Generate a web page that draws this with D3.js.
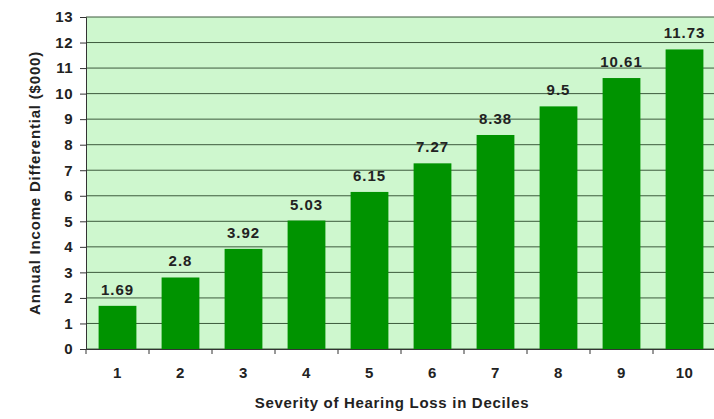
<!DOCTYPE html>
<html>
<head>
<meta charset="utf-8">
<script src="https://cdn.jsdelivr.net/npm/d3@7"></script>
<style>
  body { margin: 0; background: #fff; }
  svg text { font-family: "Liberation Sans", Arial, sans-serif; font-weight: bold; fill: #222; }
</style>
</head>
<body>
<div id="chart"></div>
<script>
// deciles of hearing loss and the income differential ($000)
var deciles = ['1', '2', '3', '4', '5', '6', '7', '8', '9', '10'];
var incomeDiff = [1.69, 2.8, 3.92, 5.03, 6.15, 7.27, 8.38, 9.5, 10.61, 11.73];
var yTicks = [0, 1, 2, 3, 4, 5, 6, 7, 8, 9, 10, 11, 12, 13];

var margin = { top: 17, right: -2, bottom: 70, left: 86 },
    W = 714, H = 419,
    width = W - margin.left - margin.right,
    height = H - margin.top - margin.bottom;

var svg = d3.select('#chart').append('svg')
    .attr('width', W)
    .attr('height', H);

var g = svg.append('g')
    .attr('transform', 'translate(' + margin.left + ',' + margin.top + ')');

var x = d3.scaleBand().domain(deciles).range([0, width]).paddingInner(0.4).paddingOuter(0.2);
var y = d3.scaleLinear().domain([0, 13]).range([height, 0]);

// plot background
g.append('rect')
    .attr('width', width)
    .attr('height', height)
    .attr('fill', '#cef7ce');

// grid lines
g.append('g')
    .selectAll('line')
    .data(yTicks)
    .join('line')
    .attr('x1', 0)
    .attr('x2', width)
    .attr('y1', function(d) { return y(d); })
    .attr('y2', function(d) { return y(d); })
    .attr('stroke', '#3d5a3d')
    .attr('stroke-width', 1);

// bars
g.selectAll('.bar')
    .data(incomeDiff)
    .join('rect')
    .attr('class', 'bar')
    .attr('x', function(d, i) { return x(deciles[i]); })
    .attr('y', function(d) { return y(d); })
    .attr('width', x.bandwidth())
    .attr('height', function(d) { return height - y(d); })
    .attr('fill', '#009300');

// value labels
g.selectAll('.val')
    .data(incomeDiff)
    .join('text')
    .attr('class', 'val')
    .attr('x', function(d, i) { return x(deciles[i]) + x.bandwidth() / 2; })
    .attr('y', function(d) { return y(d) - 11; })
    .attr('text-anchor', 'middle')
    .style('font-size', '15px')
    .style('letter-spacing', '1px')
    .text(function(d) { return d; });

// y axis
var yAxis = g.append('g')
    .call(d3.axisLeft(y).tickValues(yTicks).tickSize(6).tickPadding(7));
yAxis.select('.domain').attr('stroke', '#333');
yAxis.selectAll('.tick line').attr('stroke', '#333');
yAxis.selectAll('text').style('font-size', '15px').style('letter-spacing', '0.5px').attr('fill', '#222');

// x axis (ticks between categories)
var xAxis = g.append('g')
    .attr('transform', 'translate(0,' + height + ')')
    .call(d3.axisBottom(x).tickSize(0).tickPadding(18));
xAxis.select('.domain').attr('stroke', '#333');
xAxis.selectAll('text').style('font-size', '15px').style('letter-spacing', '0.5px').attr('fill', '#222');
xAxis.selectAll('.sep')
    .data(deciles)
    .join('line')
    .attr('class', 'sep')
    .attr('x1', function(d) { return x(d) - x.step() * x.paddingInner() / 2; })
    .attr('x2', function(d) { return x(d) - x.step() * x.paddingInner() / 2; })
    .attr('y1', 0)
    .attr('y2', 5)
    .attr('stroke', '#333');

// axis titles
svg.append('text')
    .attr('x', 392)
    .attr('y', 408)
    .attr('text-anchor', 'middle')
    .style('font-size', '15px')
    .style('letter-spacing', '0.7px')
    .text('Severity of Hearing Loss in Deciles');

svg.append('text')
    .attr('transform', 'translate(40,' + (margin.top + height / 2) + ') rotate(-90)')
    .attr('text-anchor', 'middle')
    .style('font-size', '15px')
    .style('letter-spacing', '0.8px')
    .text('Annual Income Differential ($000)');
</script>
</body>
</html>
